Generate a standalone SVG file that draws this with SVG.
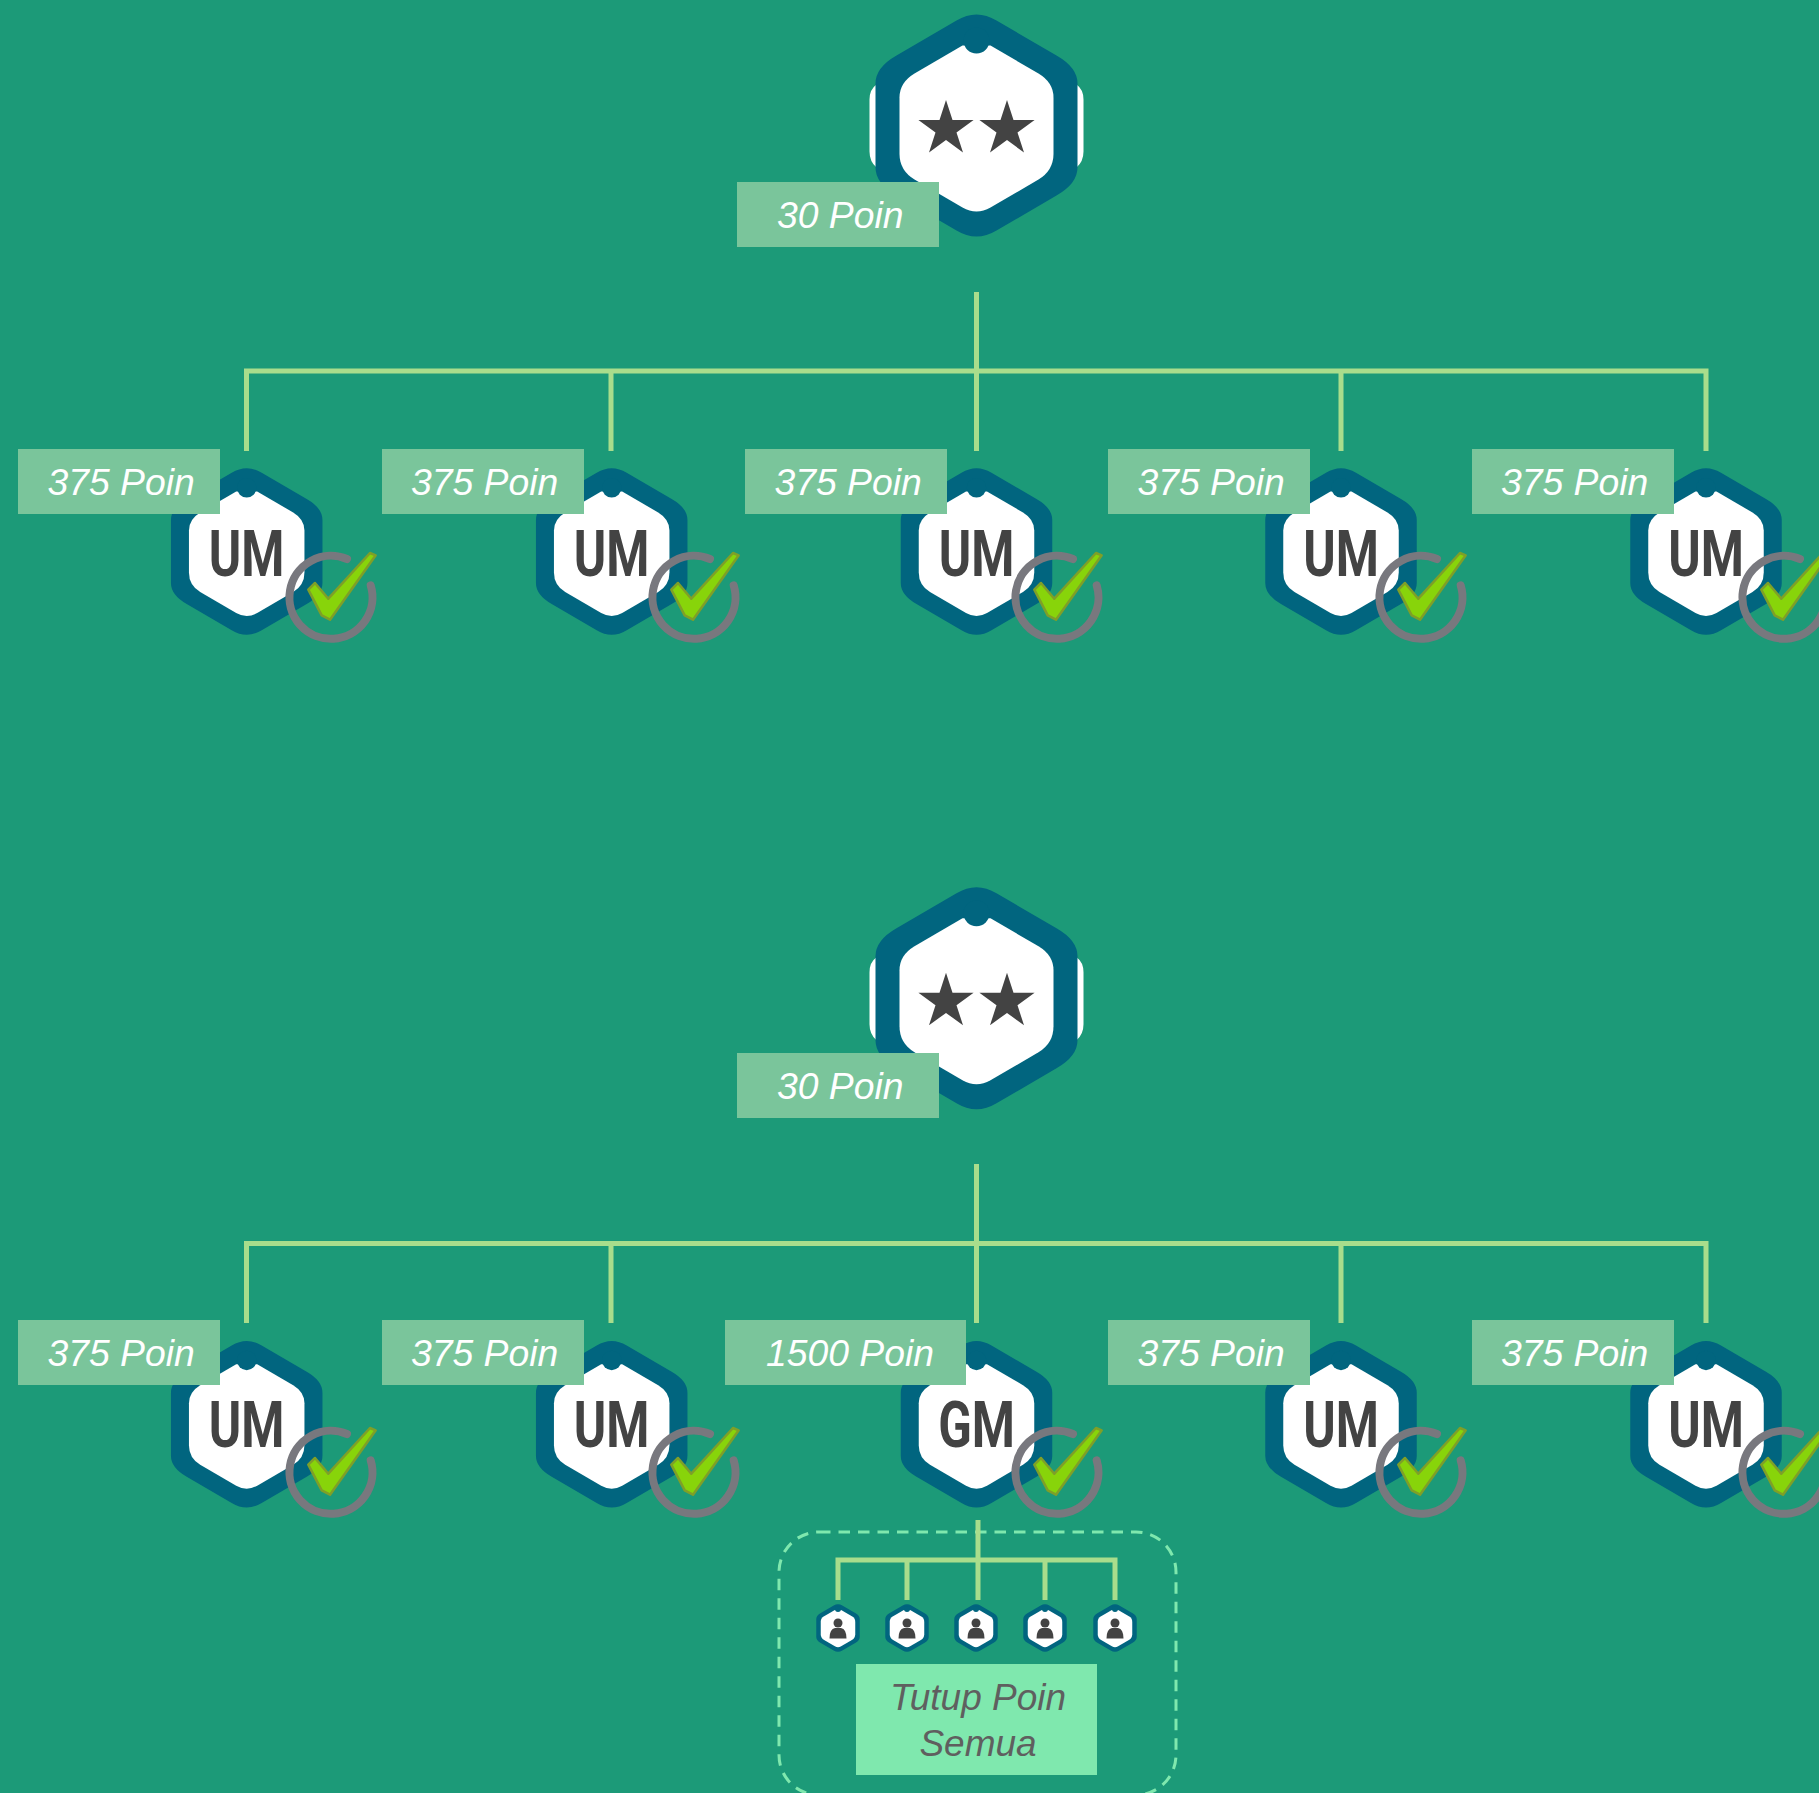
<svg xmlns="http://www.w3.org/2000/svg" width="1819" height="1793" viewBox="0 0 1819 1793">
<style>
.bg{fill:#1c9a78}
.blue{fill:#01657f}
.white{fill:#fff}
.ink{fill:#434343}
.lbl{fill:#7ac59b}
.lt{font-family:"Liberation Sans",Arial,sans-serif;font-style:italic;font-size:37.300px;fill:#fff}
.tt{font-family:"Liberation Sans",Arial,sans-serif;font-style:italic;font-size:37px;fill:#5f5f5f;text-anchor:middle}
.code{font-family:Roboto,"Liberation Sans",sans-serif;font-weight:700;font-size:64px;fill:#434343;text-anchor:middle}
.conn{fill:none;stroke:#a9dd8c;stroke-width:5}
.ring{fill:none;stroke:#78787e;stroke-width:8;stroke-linecap:round}
.tick{fill:#88d40a;stroke:#7f9f28;stroke-width:2.500;stroke-linejoin:round}
.dash{fill:none;stroke:#7fe8ae;stroke-width:3;stroke-dasharray:11.500 8}
</style>
<defs>
<path id="outer" d="M-20-105Q0-117 20-105L80-70Q101-58 101-42L101 42Q101 58 80 70L20 105Q0 117-20 105L-80 70Q-101 58-101 42L-101-42Q-101-58-80-70Z"/>
<path id="inner" d="M-14-80L-62-52Q-77-43-77-28L-77 28Q-77 45-62 54L-14 82Q0 90 14 82L62 54Q77 45 77 28L77-28Q77-43 62-52L14-80Z"/>
<g id="hex"><use href="#outer" class="blue"/><use href="#inner" class="white"/><circle cy="-85" r="13" class="blue"/></g>
<g id="bighex"><path class="white" d="M-100-41Q-107-36-107-26L-107 26Q-107 36-100 42ZM100-41Q107-36 107-26L107 26Q107 36 100 42Z"/><use href="#hex"/>
<polygon id="star" class="ink" transform="translate(-30.500 3.500)" points="0,-29 6.500,-9 27.600,-9 10.500,3.400 17,23.500 0,11.100 -17,23.500 -10.500,3.400 -27.600,-9 -6.500,-9"/>
<use href="#star" transform="translate(61 0)"/></g>
<g id="check"><path class="ring" d="M16-38A41.500 41.500 0 1 0 39.700-11.700"/><polygon class="tick" points="-22.700,-7.300 -16,-14 -2.700,1.700 39,-44 44.700,-41.700 -1,22.700 -9.300,18.300"/></g>
<g id="person"><use href="#outer" class="blue" transform="scale(.215)"/><use href="#inner" class="white" transform="scale(.224)"/><circle cy="-19" r="3" class="blue"/><circle cy="-5" r="4.500" class="ink"/><path class="ink" d="M-8.500 10.500Q-8.500 1-3 0L3 0Q8.500 1 8.500 10.500Z"/></g>
</defs>
<rect id="background" class="bg" width="1819" height="1793"/>
<rect id="group-box" class="dash" x="779" y="1532" width="397" height="263" rx="40"/>
<g id="connectors">
<path class="conn" d="M976.500 292V451M246.500 451V371H1706V451M611 371V451M1341 371V451"/>
<path class="conn" d="M976.500 1164V1323M246.500 1323V1243.500H1706V1323M611 1243.500V1323M1341 1243.500V1323"/>
<path class="conn" d="M978 1520V1600M838 1600V1560H1115V1600M907 1560V1600M1045 1560V1600"/>
</g>
<g id="top-1"><use href="#bighex" transform="translate(976.500 125.500)"/><rect class="lbl" x="737" y="182" width="202" height="65"/><text class="lt" x="777" y="228">30 Poin</text></g>
<g id="u1"><use href="#hex" transform="translate(246.700 551.500) scale(.75)"/><text class="code" transform="translate(246.500 576) scale(.77 1)">UM</text><use href="#check" x="331" y="597"/><rect class="lbl" x="18" y="449" width="202" height="65"/><text class="lt" x="47.500" y="495">375 Poin</text></g>
<g id="u2"><use href="#hex" transform="translate(611.700 551.500) scale(.75)"/><text class="code" transform="translate(611.500 576) scale(.77 1)">UM</text><use href="#check" x="694" y="597"/><rect class="lbl" x="382" y="449" width="202" height="65"/><text class="lt" x="411" y="495">375 Poin</text></g>
<g id="u3"><use href="#hex" transform="translate(976.500 551.500) scale(.75)"/><text class="code" transform="translate(976.500 576) scale(.77 1)">UM</text><use href="#check" x="1057" y="597"/><rect class="lbl" x="745" y="449" width="202" height="65"/><text class="lt" x="774.500" y="495">375 Poin</text></g>
<g id="u4"><use href="#hex" transform="translate(1341 551.500) scale(.75)"/><text class="code" transform="translate(1341 576) scale(.77 1)">UM</text><use href="#check" x="1421" y="597"/><rect class="lbl" x="1108" y="449" width="202" height="65"/><text class="lt" x="1137.500" y="495">375 Poin</text></g>
<g id="u5"><use href="#hex" transform="translate(1706 551.500) scale(.75)"/><text class="code" transform="translate(1706 576) scale(.77 1)">UM</text><use href="#check" x="1784" y="597"/><rect class="lbl" x="1472" y="449" width="202" height="65"/><text class="lt" x="1501" y="495">375 Poin</text></g>
<g id="top-2"><use href="#bighex" transform="translate(976.500 998.300)"/><rect class="lbl" x="737" y="1053" width="202" height="65"/><text class="lt" x="777" y="1099">30 Poin</text></g>
<g id="l1"><use href="#hex" transform="translate(246.700 1424.200) scale(.75)"/><text class="code" transform="translate(246.500 1447) scale(.77 1)">UM</text><use href="#check" x="331" y="1472"/><rect class="lbl" x="18" y="1320" width="202" height="65"/><text class="lt" x="47.500" y="1366">375 Poin</text></g>
<g id="l2"><use href="#hex" transform="translate(611.700 1424.200) scale(.75)"/><text class="code" transform="translate(611.500 1447) scale(.77 1)">UM</text><use href="#check" x="694" y="1472"/><rect class="lbl" x="382" y="1320" width="202" height="65"/><text class="lt" x="411" y="1366">375 Poin</text></g>
<g id="l3"><use href="#hex" transform="translate(976.500 1424.200) scale(.75)"/><text class="code" transform="translate(976.500 1446.500) scale(.77 1)">GM</text><use href="#check" x="1057" y="1472"/><rect class="lbl" x="725" y="1320" width="241" height="65"/><text class="lt" x="766" y="1366">1500 Poin</text></g>
<g id="l4"><use href="#hex" transform="translate(1341 1424.200) scale(.75)"/><text class="code" transform="translate(1341 1447) scale(.77 1)">UM</text><use href="#check" x="1421" y="1472"/><rect class="lbl" x="1108" y="1320" width="202" height="65"/><text class="lt" x="1137.500" y="1366">375 Poin</text></g>
<g id="l5"><use href="#hex" transform="translate(1706 1424.200) scale(.75)"/><text class="code" transform="translate(1706 1447) scale(.77 1)">UM</text><use href="#check" x="1784" y="1472"/><rect class="lbl" x="1472" y="1320" width="202" height="65"/><text class="lt" x="1501" y="1366">375 Poin</text></g>
<g id="p1"><use href="#person" x="838" y="1628"/></g>
<g id="p2"><use href="#person" x="907" y="1628"/></g>
<g id="p3"><use href="#person" x="976" y="1628"/></g>
<g id="p4"><use href="#person" x="1045" y="1628"/></g>
<g id="p5"><use href="#person" x="1115" y="1628"/></g>
<g id="note"><rect x="856" y="1664" width="241" height="111" fill="#7fe8ae"/><text class="tt" x="978" y="1710">Tutup Poin</text><text class="tt" x="978" y="1755.500">Semua</text></g>
</svg>
